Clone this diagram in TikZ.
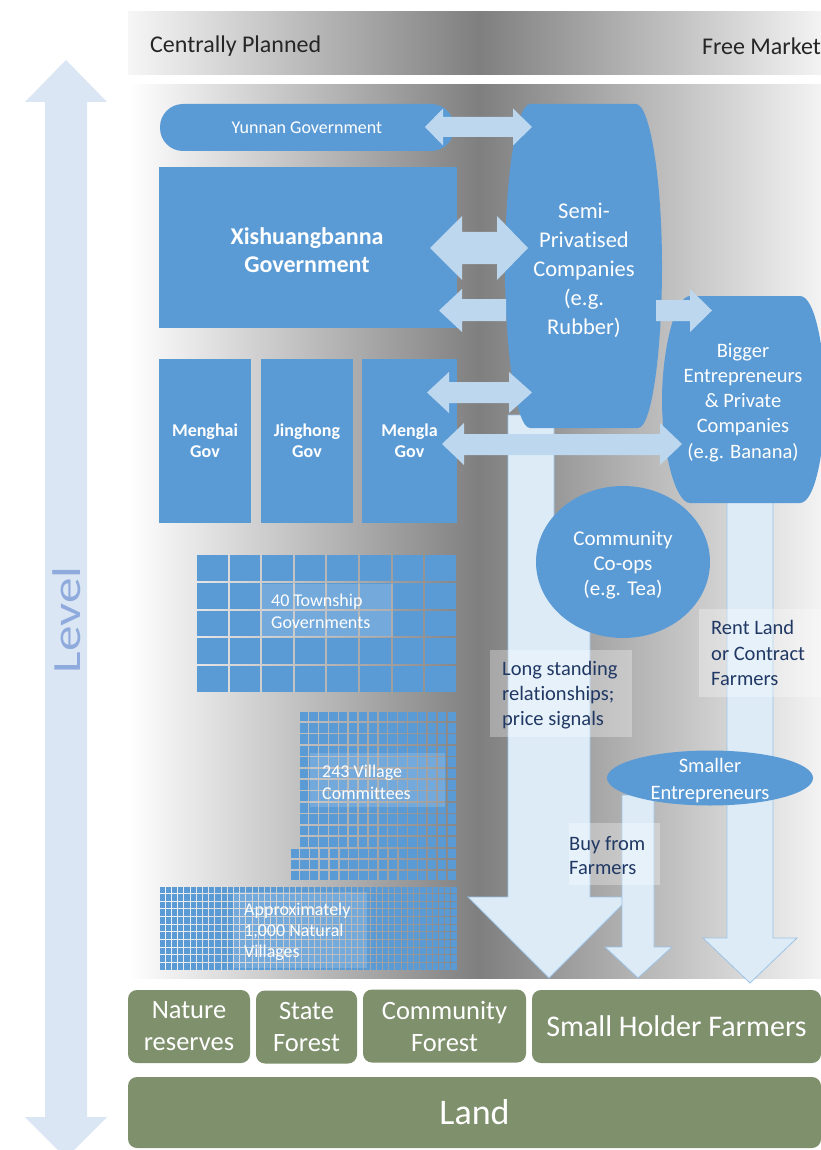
\documentclass[tikz,border=0pt]{standalone}
\usepackage{fontspec}
\setmainfont{Carlito}[Ligatures=CommonOff]
\usepackage{tikz}
\usepackage{xcolor}
\definecolor{boxblue}{HTML}{5B9BD5}
\definecolor{linkblue}{HTML}{BDD7EE}
\definecolor{flowblue}{HTML}{DDEBF7}
\definecolor{flowedge}{HTML}{9DC3E6}
\definecolor{levelblue}{HTML}{DAE6F3}
\definecolor{leveltext}{HTML}{8FAADC}
\definecolor{landgreen}{HTML}{7E906C}
\definecolor{notetext}{HTML}{203864}
\definecolor{bgdark}{HTML}{7F7F7F}
\definecolor{bgside}{HTML}{F6F6F6}
\definecolor{headtext}{HTML}{262626}
\newcommand{\sz}[2]{\fontsize{#1}{#2}\selectfont}
\tikzset{
  govbox/.style={fill=boxblue, text=white, align=center, inner sep=0},
  govtext/.style={text=white, align=center, inner sep=0},
  gridtext/.style={text=white, align=left, inner sep=0, anchor=west, font={\sz{18}{22}}},
  note/.style={text=notetext, align=left, inner sep=0, anchor=west},
  landbox/.style={fill=landgreen, rounded corners=9, text=white, align=center, inner sep=0},
  cell/.style={fill=boxblue},
  linkarrow/.style={fill=linkblue},
  flowarrow/.style={fill=flowblue, draw=flowedge, line width=0.8},
  veil/.style={fill=white, fill opacity=0.15},
  notebg/.style={fill=white, fill opacity=0.3},
}

\begin{document}
\begin{tikzpicture}[x=1pt, y=-1pt]
            \useasboundingbox[fill=white] (0,0) rectangle (820,1150);
            \shade[left color=bgside, right color=bgside, middle color=bgdark] (128,12) rectangle (830,75);
            \shade[left color=white, right color=bgside, middle color=bgdark] (128,85) rectangle (830,978);
            \node[anchor=west, inner sep=0, text=headtext, font={\sz{24}{28}}] (planned) at (150,46) {Centrally Planned};
            \node[anchor=east, inner sep=0, text=headtext, font={\sz{24}{28}}] (market) at (821,46) {Free Market};

            \fill[levelblue] (66,60) -- (107,102) -- (87,102) -- (87,1117) -- (107,1117) -- (66,1158) -- (25,1117) -- (45,1117) -- (45,102) -- (25,102) -- cycle;
            \node[rotate=90, inner sep=0, text=leveltext, font={\sz{40}{46}}] (level) at (67,620) {\scalebox{1.28}[1]{Level}};

            \foreach \i in {0,...,7}
              \foreach \j in {0,...,4}
                \fill[cell] ({197+\i*32.6},{555+\j*27.8}) rectangle ++(30.6,25.8);
            \foreach \i in {0,...,15}
              \foreach \j in {0,...,11}
                \fill[cell] ({299.5+\i*9.875},{711.5+\j*11.4}) rectangle ++(8.4,9.9);
            \foreach \i in {0,...,16}
              \foreach \j in {0,...,2}
                \fill[cell] ({290.5+\i*9.82},{848.5+\j*11}) rectangle ++(8.3,9.5);
            \foreach \i in {0,...,47}
              \foreach \j in {0,...,10}
                \fill[cell] ({159.5+\i*6.21},{886.5+\j*7.64}) rectangle ++(5.2,6.6);
            \fill[veil] (262,584) rectangle (393,637);
            \fill[veil] (310,753) rectangle (445,807);
            \fill[veil] (233,892) rectangle (367,968);
            \node[gridtext] (township) at (271,611) {40 Township\\Governments};
            \node[gridtext] (village) at (322,782) {243 Village\\Committees};
            \node[gridtext, font={\sz{18}{21}}] (natural) at (244,932) {Approximately\\1,000 Natural\\Villages};

            \node[govbox, rounded corners=23, minimum width=294, minimum height=47, font={\sz{18}{22}}] (yunnan) at (307,127.5) {Yunnan Government};
            \node[govbox, minimum width=298, minimum height=161, font={\sz{24}{28}\bfseries}] (xish) at (308,247.5) {};
            \node[govtext, font={\sz{24}{28}\bfseries}] (xishtext) at (307,250) {Xishuangbanna\\Government};
            \node[govbox, minimum width=92, minimum height=164, font={\sz{18}{21}\bfseries}] (menghai) at (205,441) {Menghai\\Gov};
            \node[govbox, minimum width=92, minimum height=164, font={\sz{18}{21}\bfseries}] (jinghong) at (307,441) {Jinghong\\Gov};
            \node[govbox, minimum width=95, minimum height=164, font={\sz{18}{21}\bfseries}] (mengla) at (409.5,441) {Mengla\\Gov};

            \draw[flowarrow] (508,415) -- (554,415) -- (554,560) -- (590,560) -- (590,897) -- (630,897) -- (549,978) -- (468,897) -- (508,897) -- cycle;
            \draw[flowarrow] (727,495) -- (773,495) -- (773,938) -- (797,938) -- (750,983) -- (703,938) -- (727,938) -- cycle;
            \draw[flowarrow] (622,795) -- (654,795) -- (654,947) -- (672,947) -- (638,978) -- (605,947) -- (622,947) -- cycle;

            \fill[notebg] (490,650) rectangle (632,737);
            \fill[notebg] (699,609) rectangle (830,697);
            \fill[notebg] (569,823) rectangle (660,885);
            \node[note, font={\sz{20.5}{25}}] (longrel) at (502,695) {Long standing\\relationships;\\price signals};
            \node[note, font={\sz{20.5}{25.5}}] (rent) at (711,653) {Rent Land\\or Contract\\Farmers};
            \node[note, font={\sz{20.5}{24}}] (buy) at (569,856) {Buy from\\Farmers};

            \fill[boxblue] (530,104) -- (636,104) .. controls (650,104) and (662,180) .. (662,266) .. controls (662,350) and (652,428) .. (638,428) -- (530,428) .. controls (516,428) and (505,350) .. (505,266) .. controls (505,180) and (516,104) .. (530,104) -- cycle;
            \node[govtext, font={\sz{22.5}{29}}] (semi) at (584,270) {Semi-\\Privatised\\Companies\\(e.g.\\Rubber)};
            \fill[boxblue] (690,296) -- (800,296) .. controls (815,296) and (825,350) .. (825,400) .. controls (825,450) and (815,503) .. (800,503) -- (690,503) .. controls (675,503) and (662,450) .. (662,400) .. controls (662,350) and (675,296) .. (690,296) -- cycle;
            \node[govtext, font={\sz{20.5}{25.2}}] (bigger) at (743,402.5) {Bigger\\Entrepreneurs\\\& Private\\Companies\\(e.g. Banana)};
            \fill[boxblue] (623,562) ellipse [x radius=87, y radius=76];
            \node[govtext, font={\sz{21}{25}}] (coop) at (623,565) {Community\\Co-ops\\(e.g. Tea)};
            \fill[boxblue] (710,778) ellipse [x radius=103, y radius=27.5];
            \node[govtext, font={\sz{20.5}{27}}] (smaller) at (710,781) {Smaller\\Entrepreneurs};

            \fill[linkarrow] (425,127) -- (443,108.5) -- (443,117) -- (513,117) -- (513,108.5) -- (532,127) -- (513,145.5) -- (513,137) -- (443,137) -- (443,145.5) -- cycle;
            \fill[linkarrow] (430,248) -- (462,216) -- (462,232) -- (497,232) -- (497,216) -- (528,248) -- (497,280) -- (497,264) -- (462,264) -- (462,280) -- cycle;
            \fill[linkarrow] (439,310.5) -- (462,289) -- (462,299) -- (506,299) -- (506,321) -- (462,321) -- (462,332) -- cycle;
            \fill[linkarrow] (656,300) -- (690,300) -- (690,289) -- (712,310.5) -- (690,332) -- (690,321) -- (656,321) -- cycle;
            \fill[linkarrow] (427,392.5) -- (449,372) -- (449,382) -- (509,382) -- (509,372) -- (532,392.5) -- (509,413) -- (509,403) -- (449,403) -- (449,413) -- cycle;
            \fill[linkarrow] (442,444) -- (464,423) -- (464,434) -- (660,434) -- (660,423) -- (682,444) -- (660,465) -- (660,455) -- (464,455) -- (464,465) -- cycle;

            \node[landbox, minimum width=122, minimum height=73, font={\sz{26.5}{32}}] (reserves) at (189,1026.5) {Nature\\reserves};
            \node[landbox, minimum width=101, minimum height=73, font={\sz{26.5}{32}}] (stateforest) at (306.5,1027) {State\\Forest};
            \node[landbox, minimum width=163, minimum height=73, font={\sz{26.5}{32}}] (commforest) at (444.5,1026) {Community\\Forest};
            \node[landbox, minimum width=289, minimum height=73, font={\sz{30}{34}}] (farmers) at (676.5,1026.5) {Small Holder Farmers};
            \node[landbox, minimum width=693, minimum height=71, font={\sz{36}{40}}] (land) at (474.5,1112.5) {Land};
\end{tikzpicture}
\end{document}
